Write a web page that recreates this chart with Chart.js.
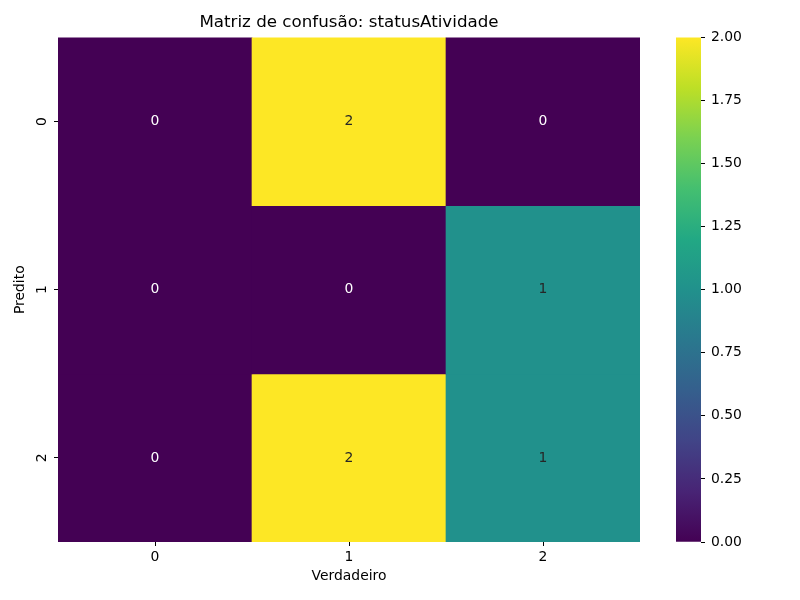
<!DOCTYPE html>
<html>
<head>
<meta charset="utf-8">
<script src="https://cdn.jsdelivr.net/npm/chart.js@4"></script>
<style>
  body { margin: 0; background: #fff; }
  #wrap { position: relative; width: 800px; height: 600px; }
  canvas { position: absolute; left: 0; top: 0; }
</style>
</head>
<body>
<div id="wrap">
  <canvas id="heatmap" width="800" height="600"></canvas>
  <canvas id="colorbar" width="800" height="600"></canvas>
</div>
<script>
const titleText = "Matriz de confusão: statusAtividade";
const xTitle = "Verdadeiro";
const yTitle = "Predito";
const colLabels = ["0", "1", "2"];
const rowLabels = ["0", "1", "2"];
const row0 = [0, 2, 0];
const row1 = [0, 0, 1];
const row2 = [0, 2, 1];
const rows = [row0, row1, row2];

const FONT = "'DejaVu Sans', sans-serif";
const viridis = ["#440154", "#482475", "#414487", "#355f8d", "#2a788e", "#21918c",
                 "#22a884", "#44bf70", "#7ad151", "#bddf26", "#fde725"];

const allValues = rows.flat();
const vmin = Math.min(...allValues);
const vmax = Math.max(...allValues);

function hexToRgb(h) {
    return [1, 3, 5].map(i => parseInt(h.slice(i, i + 2), 16));
}

function colorFor(v) {
    const t = (v - vmin) / (vmax - vmin) * (viridis.length - 1);
    const i = Math.min(Math.floor(t), viridis.length - 2);
    const f = t - i;
    const a = hexToRgb(viridis[i]), b = hexToRgb(viridis[i + 1]);
    const c = a.map((x, k) => Math.round(x + (b[k] - x) * f));
    return `rgb(${c[0]},${c[1]},${c[2]})`;
}

function textColorFor(v) {
    const c = hexToRgb(viridis[Math.round((v - vmin) / (vmax - vmin) * (viridis.length - 1))]);
    const lum = (0.2126 * c[0] + 0.7152 * c[1] + 0.0722 * c[2]) / 255;
    return lum > 0.408 ? "#262626" : "#ffffff";
}

// cell values + title centred over the heatmap area
const annotate = {
    id: "annotate",
    afterDatasetsDraw(chart) {
        const ctx = chart.ctx;
        const xs = chart.scales.x, ys = chart.scales.y;
        const area = chart.chartArea;
        ctx.save();
        ctx.font = `13.9px ${FONT}`;
        ctx.textAlign = "center";
        ctx.textBaseline = "middle";
        rows.forEach((r, i) => {
            r.forEach((v, j) => {
                ctx.fillStyle = textColorFor(v);
                ctx.fillText(String(v), xs.getPixelForValue(j), ys.getPixelForValue(i + 0.5));
            });
        });
        ctx.fillStyle = "#000";
        ctx.font = `16.7px ${FONT}`;
        ctx.fillText(titleText, (area.left + area.right) / 2, 22.5);
        ctx.restore();
    }
};

new Chart(document.getElementById("heatmap"), {
    type: "bar",
    data: {
        labels: colLabels,
        datasets: rows.map((r, i) => ({
            label: rowLabels[i],
            data: r.map(() => [i, i + 1]),
            backgroundColor: r.map(v => colorFor(v)),
            borderWidth: 0,
            barPercentage: 1,
            categoryPercentage: 1,
            grouped: false
        }))
    },
    options: {
        responsive: false,
        animation: false,
        layout: { padding: { left: 0, right: 160, top: 37.4, bottom: 0 } },
        plugins: {
            legend: { display: false },
            tooltip: { enabled: false },
            title: { display: false }
        },
        scales: {
            x: {
                border: { display: false },
                grid: { offset: false, drawOnChartArea: false, drawTicks: true, tickLength: 4, color: "#000" },
                ticks: { color: "#000", font: { family: FONT, size: 13.9 }, padding: 3, maxRotation: 0 },
                title: {
                    display: true, text: xTitle, color: "#000",
                    font: { family: FONT, size: 13.9 }, padding: { top: 0, bottom: 15 }
                },
                afterFit(scale) { scale.height = 58; }
            },
            y: {
                type: "linear",
                min: 0,
                max: rowLabels.length,
                reverse: true,
                border: { display: false },
                grid: { drawOnChartArea: false, drawTicks: true, tickLength: 4, color: "#000" },
                afterBuildTicks(scale) {
                    scale.ticks = rowLabels.map((_, i) => ({ value: i + 0.5 }));
                },
                ticks: {
                    color: "#000",
                    font: { family: FONT, size: 13.9 },
                    padding: 7,
                    minRotation: 90,
                    maxRotation: 90,
                    crossAlign: "center",
                    callback: v => rowLabels[Math.floor(v)]
                },
                title: {
                    display: true, text: yTitle, color: "#000",
                    font: { family: FONT, size: 13.9 }, padding: { top: 12, bottom: 0 }
                },
                afterFit(scale) { scale.width = 58; }
            }
        }
    },
    plugins: [annotate]
});

new Chart(document.getElementById("colorbar"), {
    type: "bar",
    data: {
        labels: [""],
        datasets: [{
            data: [[vmin, vmax]],
            borderWidth: 0,
            barPercentage: 1,
            categoryPercentage: 1,
            backgroundColor(c) {
                const area = c.chart.chartArea;
                if (!area) return viridis[0];
                const g = c.chart.ctx.createLinearGradient(0, area.bottom, 0, area.top);
                viridis.forEach((col, k) => g.addColorStop(k / (viridis.length - 1), col));
                return g;
            }
        }]
    },
    options: {
        responsive: false,
        animation: false,
        layout: { padding: { left: 676, right: 0, top: 37.4, bottom: 58 } },
        plugins: { legend: { display: false }, tooltip: { enabled: false } },
        scales: {
            x: { display: false },
            y: {
                position: "right",
                min: vmin,
                max: vmax,
                border: { display: false },
                grid: { drawOnChartArea: false, drawTicks: true, tickLength: 4, color: "#000" },
                ticks: {
                    stepSize: 0.25,
                    color: "#000",
                    font: { family: FONT, size: 13.9 },
                    padding: 6,
                    callback: v => v.toFixed(2)
                },
                afterFit(scale) { scale.width = 99; }
            }
        }
    }
});
</script>
</body>
</html>
